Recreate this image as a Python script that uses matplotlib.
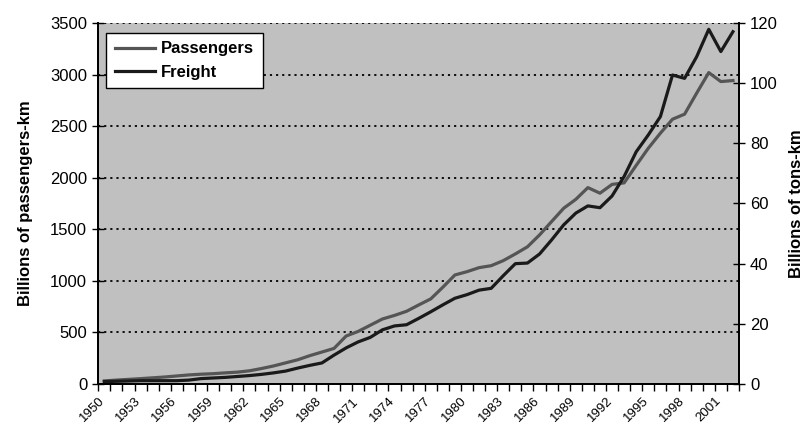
import numpy as np
import matplotlib.pyplot as plt
from matplotlib.transforms import ScaledTranslation

years = list(range(1950, 2003))
passengers = [30, 38, 45, 52, 60, 68, 78, 88, 95, 100, 108, 115, 128, 150, 175,
              205, 235, 275, 310, 345, 465, 510, 570, 630, 665, 705, 766, 825, 938,
              1057, 1089, 1128, 1147, 1196, 1261, 1330, 1445, 1575, 1704, 1790, 1904,
              1850, 1935, 1950, 2120, 2286, 2432, 2567, 2616, 2820, 3019, 2932, 2942]
freight = [0.8, 0.9, 1.0, 1.1, 1.1, 1.1, 1.1, 1.3, 1.8, 2.0, 2.2, 2.5, 2.8, 3.2, 3.7,
           4.3, 5.3, 6.2, 7.0, 9.6, 12.0, 14.0, 15.5, 18.0, 19.3, 19.7, 21.8, 24.0,
           26.3, 28.5, 29.7, 31.2, 31.8, 36.0, 40.0, 40.2, 43.2, 47.9, 52.9, 56.8,
           59.2, 58.6, 62.5, 69.0, 77.2, 82.8, 88.9, 102.7, 101.6, 108.8, 117.9,
           110.5, 117.1]

plt.rcParams['font.family'] = ['Liberation Sans', 'DejaVu Sans']

fig = plt.figure(figsize=(8.11, 4.32), dpi=100)
ax = fig.add_axes([0.1212, 0.1111, 0.79, 0.8357])
ax2 = ax.twinx()

x = np.arange(len(years))
ax.set_facecolor('#c0c0c0')
ax2.patch.set_visible(False)

p1, = ax.plot(x, passengers, color='#555555', lw=2.3, label='Passengers')
p2, = ax2.plot(x, freight, color='#1a1a1a', lw=2.3, label='Freight')

ax.set_xlim(-0.5, len(years) - 0.5)
ax.set_ylim(0, 3500)
ax2.set_ylim(0, 120)
ax.set_yticks(range(0, 3501, 500))
ax2.set_yticks(range(0, 121, 20))

# dotted gridlines
for v in range(500, 3501, 500):
    ax.axhline(v, color='black', lw=1.3, ls=(0, (1.2, 2.2)), zorder=0.5)

lab_idx = list(range(0, len(years), 3))
ax.set_xticks(lab_idx)
ax.set_xticklabels([str(years[i]) for i in lab_idx], rotation=45, ha='right',
                   rotation_mode='anchor', fontsize=9.5)
ax.tick_params(axis='x', which='major', length=0, pad=8)
shift = ScaledTranslation(-6 / 100, 0, fig.dpi_scale_trans)
for lbl in ax.get_xticklabels():
    lbl.set_transform(lbl.get_transform() + shift)
ax.set_xticks(np.arange(-0.5, len(years), 1), minor=True)
ax.tick_params(axis='x', which='minor', length=5, width=1, direction='out')

ax.tick_params(axis='y', labelsize=12, direction='inout', length=8, width=1, pad=4)
ax2.tick_params(axis='y', labelsize=12, direction='inout', length=8, width=1, pad=4)

for a in (ax, ax2):
    a.spines['top'].set_visible(False)
    for s in ('left', 'right', 'bottom'):
        a.spines[s].set_linewidth(1.3)

ax.set_ylabel('Billions of passengers-km', fontsize=12, fontweight='bold', labelpad=12)
ax2.set_ylabel('Billions of tons-km', fontsize=12, fontweight='bold', labelpad=8)

leg = ax2.legend(handles=[p1, p2], loc='upper left', bbox_to_anchor=(0.0125, 0.972),
                 borderaxespad=0, prop={'weight': 'bold', 'size': 12}, fancybox=False,
                 framealpha=1, edgecolor='black', handlelength=2.4, handletextpad=0.4,
                 borderpad=0.5, labelspacing=0.5)
leg.get_frame().set_linewidth(1)

fig.savefig('out.png', dpi=100)
